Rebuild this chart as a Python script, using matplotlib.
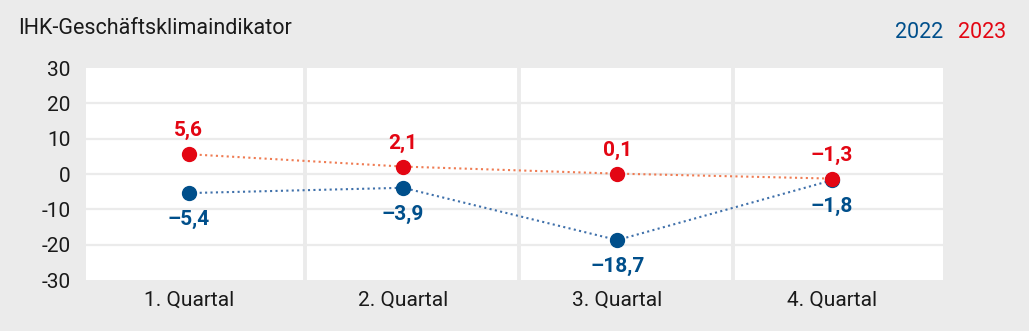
import matplotlib
matplotlib.use("Agg")
import matplotlib.pyplot as plt

# Quarterly values of the IHK business climate indicator
quarters = ["1. Quartal", "2. Quartal", "3. Quartal", "4. Quartal"]
values_2022 = [-5.4, -3.9, -18.7, -1.8]
values_2023 = [5.6, 2.1, 0.1, -1.3]
yticks = [-30, -20, -10, 0, 10, 20, 30]

BG = "#ebebeb"
BLUE = "#004f8b"
RED = "#e30613"
BLUE_LINE = "#3f70aa"
RED_LINE = "#ef7b52"
TEXT = "#1a1a1a"

plt.rcParams["font.family"] = ["Roboto", "DejaVu Sans"]

fig = plt.figure(figsize=(10.29, 3.31), dpi=100, facecolor=BG)
ax = fig.add_axes([86 / 1029, 51 / 331, 857 / 1029, 212 / 331])
ax.set_facecolor("white")

x = list(range(len(quarters)))
ax.set_xlim(-0.48, 3.52)
ax.set_ylim(-30, 30)

# horizontal grid and quarter separators
for t in yticks[1:-1]:
    ax.axhline(t, color=BG, lw=1.6, zorder=0)
for s in [0.54, 1.54, 2.54]:
    ax.axvline(s, color=BG, lw=2.8, zorder=0)

ax.plot(x, values_2022, color=BLUE_LINE, lw=1.5, ls=(0, (1, 1.6)), zorder=2)
ax.plot(x, values_2023, color=RED_LINE, lw=1.5, ls=(0, (1, 1.6)), zorder=2)
ax.plot(x, values_2022, "o", color=BLUE, ms=10, zorder=3)
ax.plot(x, values_2023, "o", color=RED, ms=10, zorder=4)

def fmt(v):
    s = f"{abs(v):.1f}".replace(".", ",")
    return ("\u2013" + s) if v < 0 else s

for xi, v in zip(x, values_2022):
    ax.annotate(fmt(v), (xi, v), xytext=(0, -19), textcoords="offset points",
                ha="center", va="center", fontsize=15, fontweight="bold", color=BLUE)
for xi, v in zip(x, values_2023):
    ax.annotate(fmt(v), (xi, v), xytext=(0, 17), textcoords="offset points",
                ha="center", va="center", fontsize=15, fontweight="bold", color=RED)

for sp in ax.spines.values():
    sp.set_visible(False)
ax.set_yticks(yticks)
ax.set_yticklabels([str(t) for t in yticks], fontsize=15, color=TEXT)
ax.set_xticks(x)
ax.set_xticklabels(quarters, fontsize=15, color=TEXT)
ax.tick_params(length=0)
ax.tick_params(axis="y", pad=11)
ax.tick_params(axis="x", pad=8)

fig.text(18 / 1029, 1 - 28 / 331, "IHK-Geschäftsklimaindikator", fontsize=15.5,
         color=TEXT, ha="left", va="center")
fig.text(943 / 1029, 1 - 32 / 331, "2022", fontsize=15.5, color=BLUE, ha="right", va="center")
fig.text(958 / 1029, 1 - 32 / 331, "2023", fontsize=15.5, color=RED, ha="left", va="center")

fig.savefig("out.png", dpi=100, facecolor=BG)
